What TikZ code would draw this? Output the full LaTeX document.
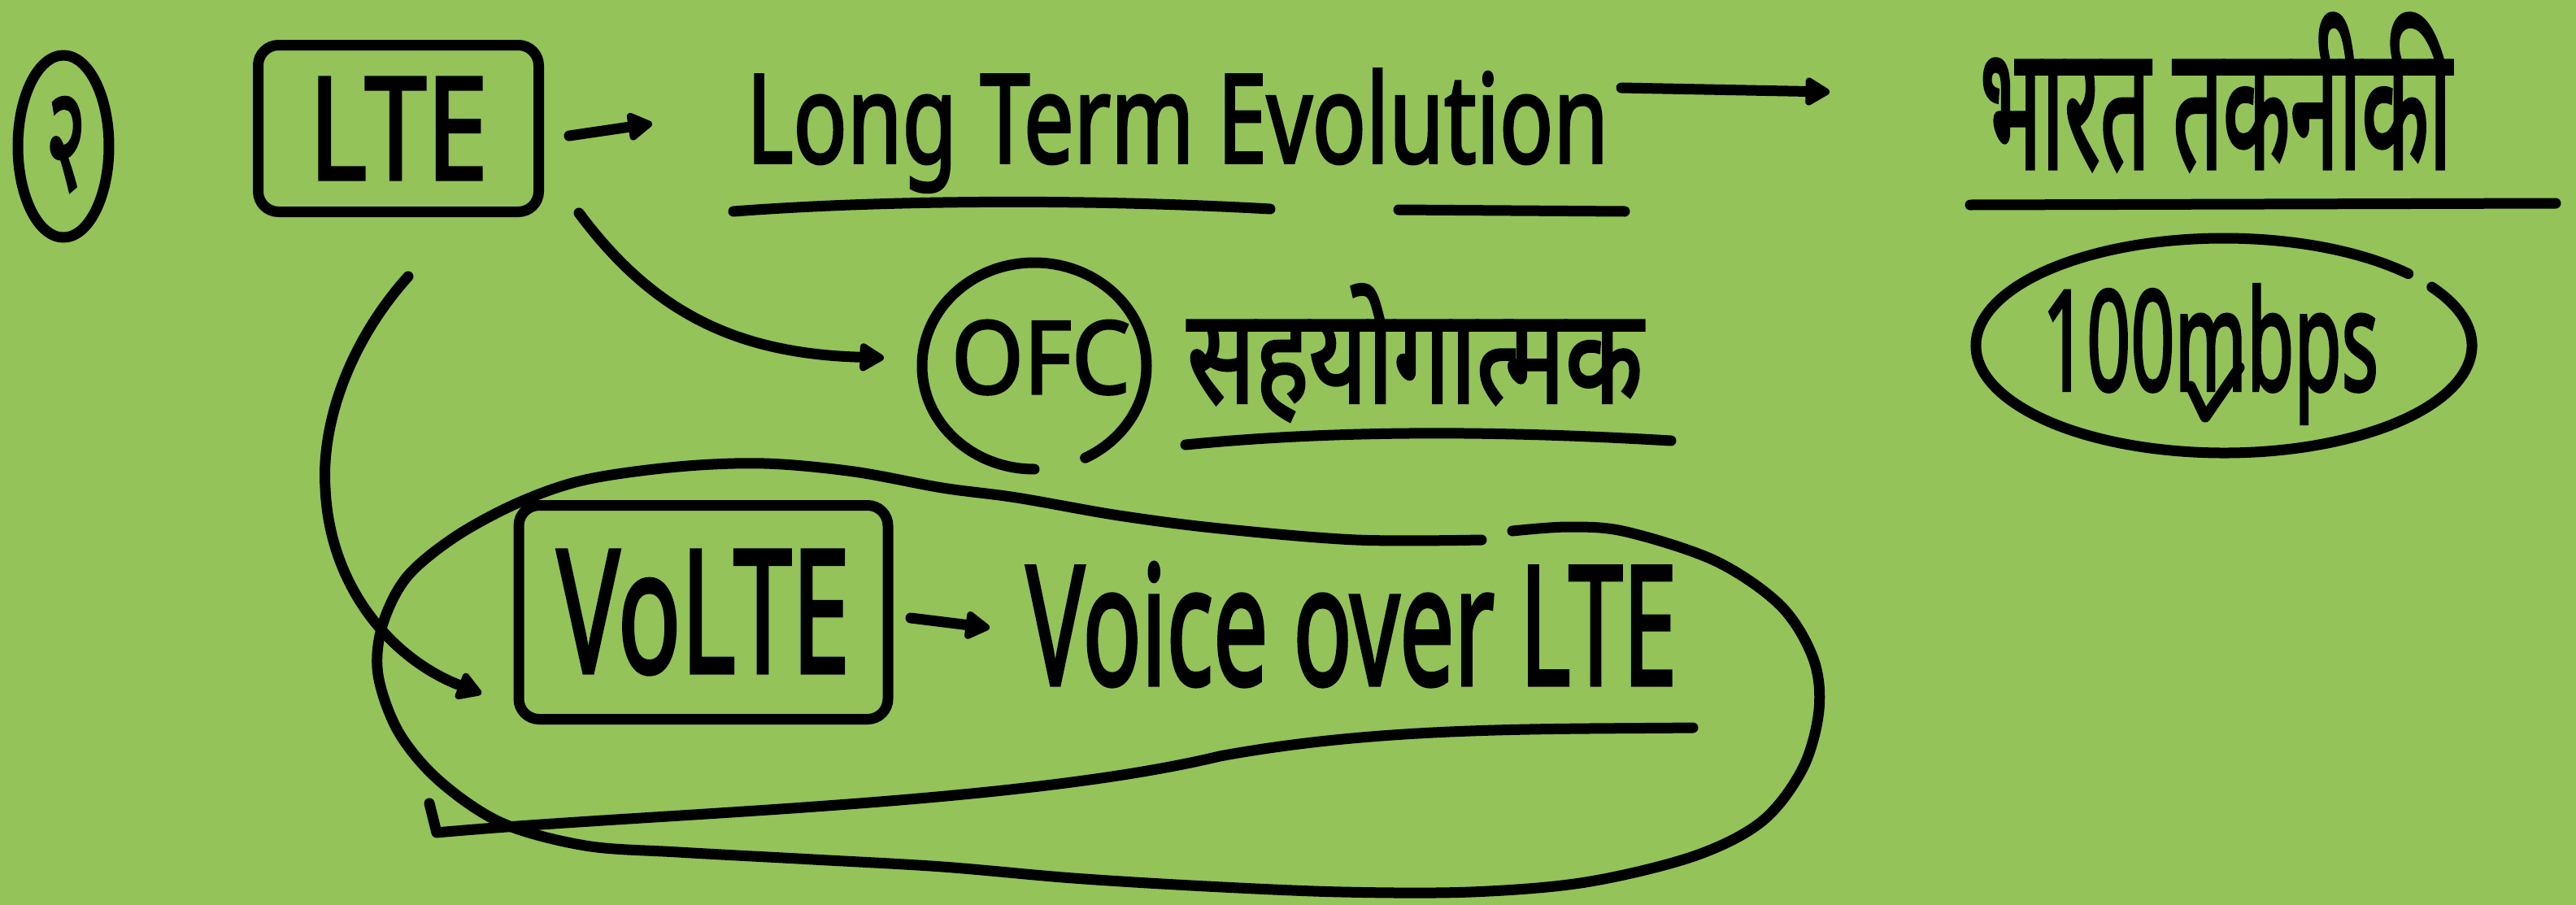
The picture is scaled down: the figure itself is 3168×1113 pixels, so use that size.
\documentclass[tikz,border=0pt]{standalone}
\usepackage{fontspec}
\setmainfont{Noto Sans}[FakeBold=2.5]
\newfontfamily\deva[Script=Devanagari,FakeBold=2.5]{Noto Sans}
\usetikzlibrary{arrows.meta}
\definecolor{bg}{RGB}{147,195,89}
\begin{document}
\begin{tikzpicture}[x=0.1mm,y=-0.1mm,
  ink/.style={line width=1.3mm, line cap=round, line join=round, black},
  arr/.style={ink, -{Triangle[length=3.4mm,width=3.8mm,round]}},
  txt/.style={inner sep=0pt, outer sep=0pt, anchor=base west},
  handbox/.style={draw, line width=1.3mm, rounded corners=2.5mm, inner sep=0pt, outer sep=0pt}]
\fill[bg] (0,0) rectangle (3168,1113);
\useasboundingbox (0,0) rectangle (3168,1113);

% texts and boxes
\node[txt] (two) at (56,233) {\resizebox{5mm}{11.3mm}{\deva २}};
\draw[ink] (78,180) ellipse[x radius=56, y radius=112];

\node[handbox, minimum width=34.5mm, minimum height=20.5mm] (lte) at (490,158) {\resizebox{22mm}{12.5mm}{LTE}};
\node[txt] (ltefull) at (918,200) {\resizebox{106mm}{11.5mm}{Long Term Evolution}};
\node[txt] (bharat) at (2435,207) {\resizebox{58mm}{19mm}{\deva भारत तकनीकी}};
\node[txt] (speed) at (2512,480) {\resizebox{41.3mm}{13mm}{100mbps}};
\node[txt] (ofc) at (1170,484) {\resizebox{22mm}{9mm}{OFC}};
\node[txt] (sahyog) at (1460,495) {\resizebox{56mm}{14.5mm}{\deva सहयोगात्मक}};
\node[handbox, minimum width=45.4mm, minimum height=26.3mm] (volte) at (865,753) {\resizebox{36mm}{15mm}{VoLTE}};
\node[txt] (voice) at (1262,842) {\resizebox{80mm}{15mm}{Voice over LTE}};

% underlines
\draw[ink] (902,260) .. controls (1100,245) and (1350,245) .. (1562,257);
\draw[ink] (1720,258) -- (1998,260);
\draw[ink] (2423,252) -- (3143,250);
\draw[ink] (1458,547) .. controls (1650,528) and (1850,530) .. (2055,542);

% loops
\draw[ink] (1272,450) ++(90:138 and 127) arc[start angle=90, end angle=423, x radius=138, y radius=127];
\draw[ink] (2735,425) ++(-33:305 and 132) arc[start angle=-33, end angle=318, x radius=305, y radius=132];
\draw[ink] (2694,475) -- (2712,513) -- (2754,452);

\draw[ink] plot[smooth, tension=0.55] coordinates {(1822,664) (1668,664) (1500,650) (1376,634) (1250,612) (1159,600) (1050,580) (940,570) (834,574) (720,590) (638,618) (560,660) (500,710) (470,770) (465,830) (490,900) (540,960) (617,1012) (720,1040) (834,1048) (1000,1057) (1159,1066) (1320,1080) (1484,1090) (1650,1097) (1809,1097) (1950,1085) (2083,1053) (2167,1010) (2217,945) (2237,873) (2230,810) (2190,745) (2110,690) (2000,654) (1930,648) (1860,653)};
\draw[ink] (528,988) -- (537,1024) .. controls (800,1000) and (1250,990) .. (1500,930) .. controls (1700,893) and (1900,897) .. (2082,895);

% connectors
\coordinate (a1s) at (700,167);
\coordinate (a1e) at (802,152);
\coordinate (a2s) at (1994,108);
\coordinate (a2e) at (2250,113);
\coordinate (a3s) at (712,262);
\coordinate (a3e) at (1087,440);
\coordinate (a4s) at (502,340);
\coordinate (a4e) at (592,853);
\coordinate (a5s) at (1120,760);
\coordinate (a5e) at (1217,772);
\draw[arr] (a1s) -- (a1e);
\draw[arr] (a2s) -- (a2e);
\draw[arr] (a3s) .. controls (800,380) and (900,435) .. (a3e);
\draw[arr] (a4s) .. controls (430,420) and (395,520) .. (400,600) .. controls (405,720) and (480,810) .. (a4e);
\draw[arr] (a5s) -- (a5e);
\end{tikzpicture}
\end{document}
